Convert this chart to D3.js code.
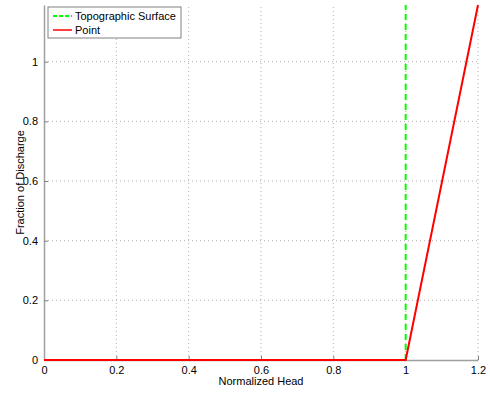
<!DOCTYPE html>
<html>
<head>
<meta charset="utf-8">
<script src="https://cdn.jsdelivr.net/npm/d3@7"></script>
<style>
  body { margin: 0; background: #fff; }
  text { font-family: "Liberation Sans", Arial, sans-serif; }
</style>
</head>
<body>
<div class="chart"></div>
<script>
'use strict';

// Data
const xTicks = [0, 0.2, 0.4, 0.6, 0.8, 1, 1.2];
const yTicks = [0, 0.2, 0.4, 0.6, 0.8, 1];
const surfaceX = [1, 1];
const surfaceY = [0, 1.19];
const pointX = [0, 1, 1.2];
const pointY = [0, 0, 1.19];

// Initialize
const w = 490;
const h = 394;
const margin = { left: 44, right: 12, top: 5, bottom: 34 };

const svg = d3.select('.chart')
              .append('svg')
              .attr('width', w)
              .attr('height', h);

const xScale = d3.scaleLinear()
                 .domain([0, 1.2])
                 .range([margin.left, w - margin.right]);

const yScale = d3.scaleLinear()
                 .domain([0, 1.19])
                 .range([h - margin.bottom, margin.top]);

// Grid
svg.append('g')
  .selectAll('line')
  .data(xTicks.filter(d => d > 0))
  .enter()
  .append('line')
  .attr('x1', d => xScale(d))
  .attr('x2', d => xScale(d))
  .attr('y1', yScale(0))
  .attr('y2', yScale(1.19))
  .attr('stroke', '#b0b0b0')
  .attr('stroke-dasharray', '1,3');

svg.append('g')
  .selectAll('line')
  .data(yTicks.filter(d => d > 0))
  .enter()
  .append('line')
  .attr('x1', xScale(0))
  .attr('x2', xScale(1.2))
  .attr('y1', d => yScale(d))
  .attr('y2', d => yScale(d))
  .attr('stroke', '#b0b0b0')
  .attr('stroke-dasharray', '1,3');

// Axes
const xAxis = d3.axisBottom(xScale)
                .tickValues(xTicks)
                .tickFormat(d3.format('~g'))
                .tickSizeInner(-4)
                .tickSizeOuter(0)
                .tickPadding(6);

const yAxis = d3.axisLeft(yScale)
                .tickValues(yTicks)
                .tickFormat(d3.format('~g'))
                .tickSizeInner(-4)
                .tickSizeOuter(0)
                .tickPadding(6);

const gx = svg.append('g')
  .attr('transform', `translate(0, ${yScale(0)})`)
  .call(xAxis);

const gy = svg.append('g')
  .attr('transform', `translate(${xScale(0)}, 0)`)
  .call(yAxis);

[gx, gy].forEach(g => {
  g.select('.domain').attr('stroke', '#a0a0a0').attr('stroke-width', 1.5);
  g.selectAll('.tick line').attr('stroke', '#808080');
  g.selectAll('.tick text').attr('font-size', 11).attr('fill', '#000')
    .attr('font-family', '"Liberation Sans", Arial, sans-serif');
});

// Labels
svg.append('text')
  .attr('x', (xScale(0) + xScale(1.2)) / 2)
  .attr('y', 385)
  .attr('text-anchor', 'middle')
  .attr('font-size', 11)
  .text('Normalized Head');

svg.append('text')
  .attr('transform', `translate(24, ${(yScale(0) + yScale(1.19)) / 2}) rotate(-90)`)
  .attr('text-anchor', 'middle')
  .attr('font-size', 11)
  .text('Fraction of Discharge');

// Lines
const line = d3.line()
               .x(d => xScale(d[0]))
               .y(d => yScale(d[1]));

svg.append('path')
  .datum(surfaceX.map((x, i) => [x, surfaceY[i]]))
  .attr('d', line)
  .attr('fill', 'none')
  .attr('stroke', '#00ff00')
  .attr('stroke-width', 2)
  .attr('stroke-dasharray', '6,4');

svg.append('path')
  .datum(pointX.map((x, i) => [x, pointY[i]]))
  .attr('d', line)
  .attr('fill', 'none')
  .attr('stroke', '#ff0000')
  .attr('stroke-width', 2);

// Legend
const legend = svg.append('g').attr('transform', 'translate(48, 7)');

legend.append('rect')
  .attr('width', 133)
  .attr('height', 31)
  .attr('fill', '#fff')
  .attr('stroke', '#808080');

legend.append('line')
  .attr('x1', 5).attr('x2', 24).attr('y1', 9).attr('y2', 9)
  .attr('stroke', '#00ff00').attr('stroke-width', 2)
  .attr('stroke-dasharray', '4,2');

legend.append('text')
  .attr('x', 27).attr('y', 13)
  .attr('font-size', 11)
  .text('Topographic Surface');

legend.append('line')
  .attr('x1', 5).attr('x2', 24).attr('y1', 23).attr('y2', 23)
  .attr('stroke', '#ff0000').attr('stroke-width', 1.5);

legend.append('text')
  .attr('x', 27).attr('y', 27)
  .attr('font-size', 11)
  .text('Point');
</script>
</body>
</html>
